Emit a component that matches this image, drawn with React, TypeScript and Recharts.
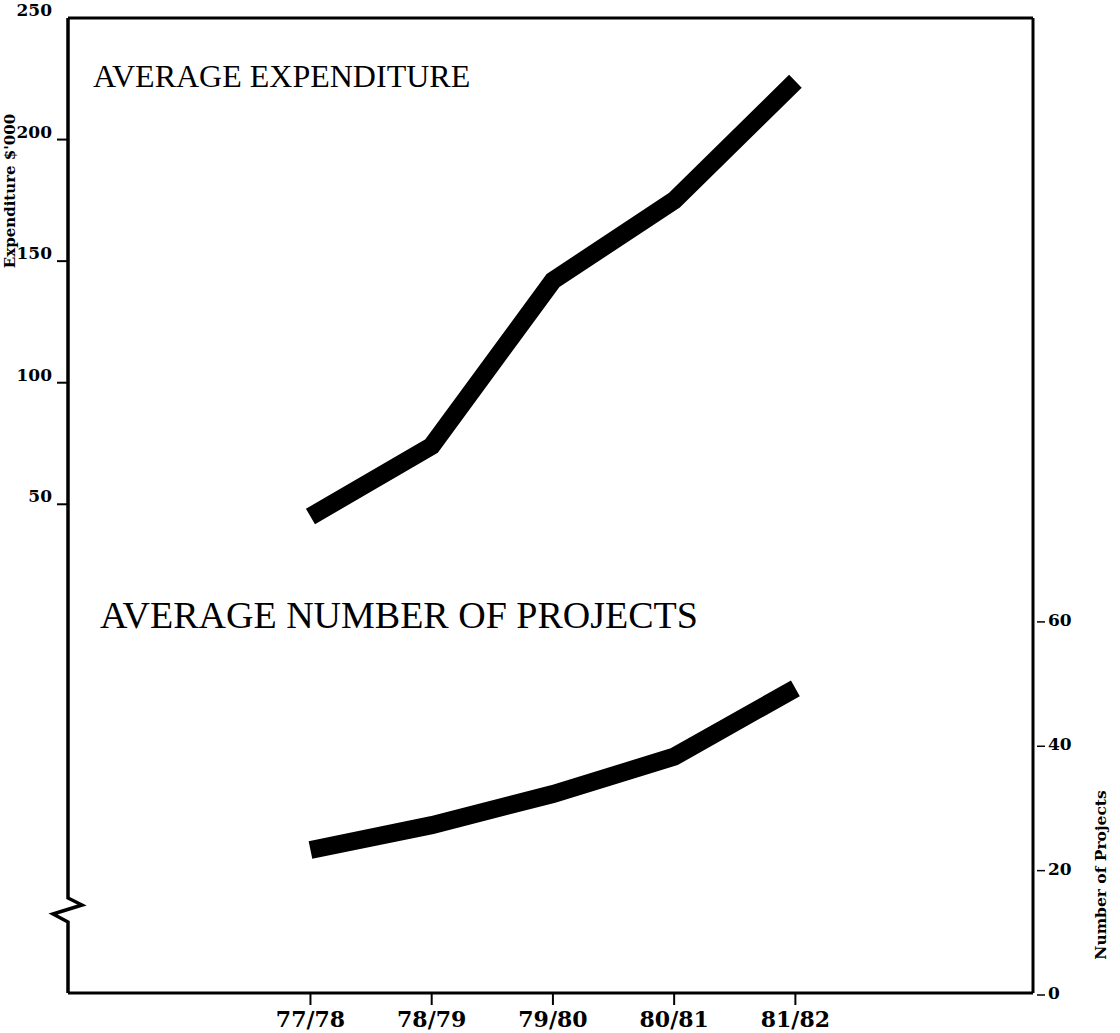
import React from 'react'
import { LineChart, Line, XAxis, YAxis, ReferenceLine } from 'recharts'

const periods = ['77/78', '78/79', '79/80', '80/81', '81/82']
const expenditure = [45, 74, 142, 175, 224]
const projects = [23, 27, 32, 38, 49]
const expenditureTicks = [50, 100, 150, 200, 250]
const projectTicks = [0, 20, 40, 60]

const data = periods.map((p, i) => ({
  idx: i,
  period: p,
  expenditure: expenditure[i],
  projects: projects[i]
}))

const serif = 'DejaVu Serif'

const LeftTick = ({ x, y, payload }: any) => (
  <g>
    {payload.value !== 250 && (
      <line x1={x - 11} x2={x} y1={y} y2={y} stroke="#000" strokeWidth={2} />
    )}
    <text
      x={x - 16}
      y={y - 2}
      textAnchor="end"
      fontFamily={serif}
      fontWeight="bold"
      fontSize={17}
      fill="#000"
    >
      {payload.value}
    </text>
  </g>
)

const RightTick = ({ x, y, payload }: any) => (
  <g>
    <line x1={x + 4} x2={x + 12} y1={y + 2} y2={y + 2} stroke="#000" strokeWidth={1.5} />
    <text
      x={x + 15}
      y={y + 6}
      textAnchor="start"
      fontFamily={serif}
      fontWeight="bold"
      fontSize={17}
      fill="#000"
    >
      {payload.value}
    </text>
  </g>
)

const BottomTick = ({ x, y, payload }: any) => (
  <text
    x={x}
    y={y + 20}
    textAnchor="middle"
    fontFamily={serif}
    fontWeight="bold"
    fontSize={22}
    fill="#000"
  >
    {periods[payload.value]}
  </text>
)

export default function App() {
  return (
    <div style={{ position: 'absolute', left: 0, top: 0, width: 1120, height: 1033, background: '#fff' }}>
      <LineChart
        width={1120}
        height={1033}
        data={data}
        margin={{ top: 18, right: 7, left: 8, bottom: 0 }}
      >
        <XAxis
          type="number"
          dataKey="idx"
          domain={[-2, 5.96]}
          ticks={[0, 1, 2, 3, 4]}
          allowDataOverflow
          height={40}
          axisLine={{ stroke: '#000', strokeWidth: 3 }}
          tickLine={{ stroke: '#000', strokeWidth: 2 }}
          tickSize={12}
          tickMargin={2}
          tick={<BottomTick />}
        />
        <YAxis
          yAxisId="left"
          orientation="left"
          width={60}
          domain={[-151, 250]}
          ticks={expenditureTicks}
          allowDataOverflow
          axisLine={false}
          tickLine={false}
          tickSize={0}
          tickMargin={0}
          tick={<LeftTick />}
        />
        <YAxis
          yAxisId="right"
          orientation="right"
          width={80}
          domain={[0, 156.8]}
          ticks={projectTicks}
          allowDataOverflow
          axisLine={{ stroke: '#000', strokeWidth: 3 }}
          tickLine={false}
          tickSize={0}
          tickMargin={0}
          tick={<RightTick />}
        />
        <ReferenceLine yAxisId="left" y={250} stroke="#000" strokeWidth={3} />
        <Line
          yAxisId="left"
          type="linear"
          dataKey="expenditure"
          stroke="#000"
          strokeWidth={18}
          strokeLinejoin="miter"
          strokeLinecap="butt"
          dot={false}
          activeDot={false}
          isAnimationActive={false}
        />
        <Line
          yAxisId="right"
          type="linear"
          dataKey="projects"
          stroke="#000"
          strokeWidth={18}
          strokeLinejoin="miter"
          strokeLinecap="butt"
          dot={false}
          activeDot={false}
          isAnimationActive={false}
        />
      </LineChart>
      <svg
        width={1120}
        height={1033}
        style={{ position: 'absolute', left: 0, top: 0, pointerEvents: 'none' }}
      >
        {/* left axis with break mark */}
        <polyline
          points="68,18 68,898 82,905 53,914 68,922 68,993"
          fill="none"
          stroke="#000"
          strokeWidth={3.5}
          strokeLinejoin="miter"
        />
        <text x={93} y={87} fontFamily="Liberation Serif" fontSize={32} fill="#000">
          AVERAGE EXPENDITURE
        </text>
        <text x={100} y={628} fontFamily="Liberation Serif" fontSize={38} fill="#000">
          AVERAGE NUMBER OF PROJECTS
        </text>
        <text
          transform="translate(15,191) rotate(-90)"
          textAnchor="middle"
          fontFamily={serif}
          fontWeight="bold"
          fontSize={15}
          fill="#000"
        >
          Expenditure $'000
        </text>
        <text
          transform="translate(1106,875) rotate(-90)"
          textAnchor="middle"
          fontFamily={serif}
          fontWeight="bold"
          fontSize={15.5}
          fill="#000"
        >
          Number of Projects
        </text>
      </svg>
    </div>
  )
}
